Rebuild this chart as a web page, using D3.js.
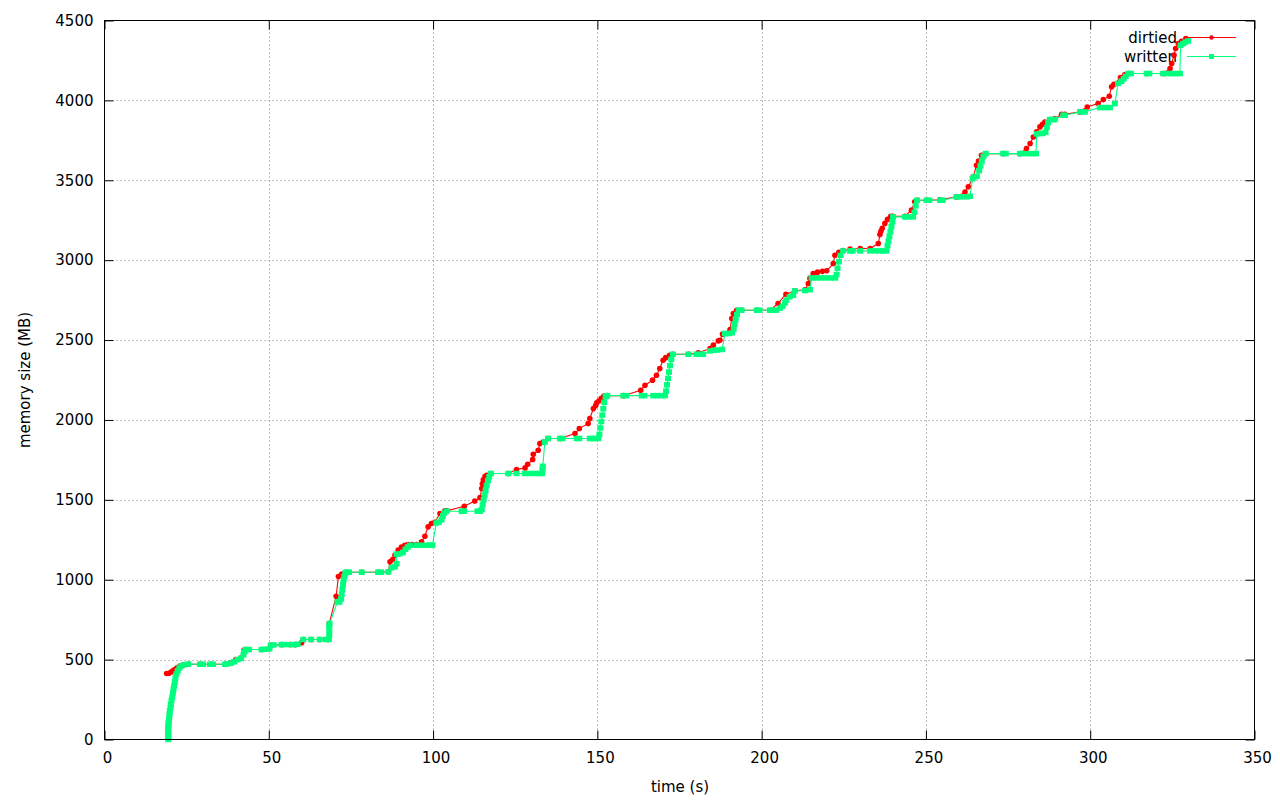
<!DOCTYPE html>
<html>
<head>
<meta charset="utf-8">
<script src="https://cdn.jsdelivr.net/npm/d3@7"></script>
<style>
  html, body { margin: 0; padding: 0; background: #fff; }
  svg { display: block; }
  text { font-family: "DejaVu Sans", sans-serif; font-size: 15px; fill: #000; }
</style>
</head>
<body>
<svg id="chart" width="1280" height="800"></svg>
<script>
// ---- data (time in s, memory in MB) ----
const xTicks = [0, 50, 100, 150, 200, 250, 300, 350];
const yTicks = [0, 500, 1000, 1500, 2000, 2500, 3000, 3500, 4000, 4500];
const seriesNames = ["dirtied", "written"];
const xLabel = "time (s)";
const yLabel = "memory size (MB)";

const dirtied = [
  [18.9,413],[19.6,415],[20.3,422],[20.9,432],[21.5,440],[22.2,450],[23.0,460],[24.0,466],[25.5,471],
  [29.0,471],[32.6,471],[36.7,471],[38.5,480],[40.0,500],[41.5,510],[42.5,560],[43.0,563],[47.8,563],
  [50.2,570],[50.6,590],[53.9,594],[56.5,594],[58.0,594],[60.0,606],[60.5,626],[62.9,626],[65.5,626],
  [68.0,626],[68.4,726],[70.5,897],[71.2,1020],[72.2,1035],[73.6,1047],[78.3,1047],[83.3,1047],
  [86.4,1050],[86.9,1112],[87.7,1127],[88.4,1153],[89.4,1185],[90.4,1205],[91.4,1215],[92.4,1220],
  [93.5,1220],[95.0,1220],[96.5,1237],[97.5,1272],[98.5,1331],[99.5,1352],[100.5,1360],[102.1,1414],
  [103.6,1431],[104.1,1431],[109.5,1460],[112.7,1493],[114.3,1514],[114.8,1571],[115.0,1600],
  [115.3,1625],[115.8,1645],[116.3,1654],[117.6,1665],[122.9,1665],[125.4,1690],[128.0,1700],
  [128.8,1723],[130.3,1752],[130.5,1785],[132.0,1810],[132.5,1852],[133.5,1862],[135.0,1884],
  [138.6,1884],[143.2,1915],[144.5,1946],[147.2,1978],[147.7,2009],[148.8,2071],[149.5,2090],
  [149.8,2107],[150.5,2120],[151.2,2135],[152.0,2149],[153.0,2152],[157.9,2152],[163.2,2186],
  [164.5,2217],[166.8,2249],[168.0,2280],[169.0,2322],[170.0,2374],[170.8,2390],[172.0,2405],
  [173.0,2411],[177.7,2411],[180.7,2420],[184.3,2447],[185.3,2468],[186.8,2495],[187.3,2499],
  [188.1,2537],[190.4,2566],[190.9,2635],[191.4,2666],[192.4,2687],[193.9,2687],[198.5,2687],
  [202.5,2687],[205.0,2729],[207.4,2787],[210.1,2808],[213.2,2815],[214.2,2854],[214.7,2886],
  [215.7,2917],[217.0,2925],[218.5,2930],[219.8,2933],[221.8,2979],[222.3,3031],[223.5,3050],
  [224.8,3060],[226.9,3070],[230.0,3073],[233.0,3073],[235.5,3104],[236.0,3160],[236.3,3181],
  [236.7,3200],[237.5,3230],[238.3,3255],[239.3,3275],[240.0,3275],[243.6,3275],[245.6,3313],
  [246.6,3365],[247.3,3375],[250.2,3375],[254.3,3378],[259.3,3396],[261.9,3427],[262.9,3459],
  [264.4,3521],[265.4,3594],[266.0,3620],[266.9,3657],[268.2,3667],[273.5,3667],[278.6,3667],
  [280.6,3699],[281.7,3730],[282.7,3771],[283.7,3803],[284.7,3834],[285.5,3850],[286.2,3865],
  [287.7,3880],[289.2,3885],[291.3,3913],[292.3,3913],[296.9,3928],[298.4,3935],[299.1,3959],
  [302.4,3980],[304.0,4005],[305.8,4026],[306.5,4085],[307.2,4100],[309.2,4143],[310.5,4160],
  [311.6,4168],[317.2,4168],[322.2,4168],[324.3,4200],[324.8,4231],[325.5,4283],[326.0,4325],
  [326.8,4356],[327.8,4370],[329.1,4387]
];

const written = [
  [19.4,0],[19.4,15],[19.4,30],[19.4,45],[19.4,60],[19.4,75],[19.5,90],[19.5,105],[19.6,120],
  [19.7,140],[19.8,160],[19.9,180],[20.1,200],[20.2,220],[20.4,245],[20.6,265],[20.8,290],
  [21.0,315],[21.2,335],[21.4,360],[21.6,385],[21.9,410],[22.3,430],[22.8,448],[23.4,460],
  [24.2,468],[25.5,472],[29.1,471],[30.0,471],[32.1,471],[33.0,471],[36.7,471],[37.6,474],
  [38.5,478],[39.5,486],[40.5,500],[41.5,507],[42.3,530],[42.6,550],[43.0,563],[44.0,563],
  [47.8,563],[49.0,565],[50.2,568],[50.6,590],[51.5,592],[53.9,594],[54.7,594],[56.5,594],
  [58.0,594],[58.8,596],[60.5,626],[62.9,626],[65.5,626],[67.4,626],[68.3,626],[68.4,650],
  [68.4,680],[68.4,709],[68.5,726],[70.9,861],[71.5,861],[72.0,880],[72.2,910],[72.4,940],
  [72.6,970],[72.8,1000],[73.0,1020],[73.3,1040],[73.6,1047],[74.4,1047],[78.3,1047],[83.3,1047],
  [84.2,1047],[86.4,1049],[87.4,1075],[88.4,1080],[88.9,1100],[88.9,1160],[89.8,1162],[90.8,1170],
  [91.6,1190],[92.3,1205],[93.0,1216],[95.0,1216],[96.5,1216],[98.0,1216],[99.0,1216],[99.8,1216],
  [101.0,1355],[101.8,1360],[102.6,1375],[103.0,1400],[103.4,1418],[104.1,1429],[108.7,1429],
  [109.5,1429],[113.5,1429],[114.3,1429],[114.8,1440],[115.1,1470],[115.4,1500],[115.7,1530],
  [116.0,1560],[116.3,1590],[116.7,1620],[117.1,1645],[117.6,1665],[122.9,1665],[125.4,1665],
  [127.9,1665],[129.5,1665],[131.0,1665],[132.5,1665],[133.2,1665],[133.3,1690],[133.4,1710],
  [134.0,1862],[135.0,1884],[138.6,1884],[139.4,1884],[143.7,1884],[144.5,1884],[147.7,1884],
  [148.5,1884],[149.4,1884],[150.3,1884],[150.6,1910],[150.9,1950],[151.2,1990],[151.5,2030],
  [151.8,2070],[152.1,2110],[152.5,2145],[153.0,2152],[157.9,2152],[158.7,2152],[163.5,2152],
  [164.3,2152],[167.0,2152],[168.2,2152],[169.4,2152],[170.6,2152],[170.9,2180],[171.2,2220],
  [171.5,2260],[171.8,2300],[172.1,2340],[172.5,2380],[173.0,2411],[177.7,2411],[180.2,2411],
  [181.2,2411],[182.2,2411],[184.3,2432],[185.5,2436],[186.5,2438],[188.0,2441],[188.8,2541],
  [190.0,2541],[191.0,2545],[191.5,2570],[191.8,2600],[192.1,2630],[192.5,2660],[193.0,2687],
  [193.9,2687],[198.5,2687],[199.3,2687],[202.5,2687],[203.5,2687],[204.5,2687],[205.6,2700],
  [206.4,2712],[207.1,2733],[207.5,2750],[208.5,2770],[209.6,2780],[210.1,2808],[213.2,2810],
  [214.7,2815],[215.2,2889],[216.5,2889],[218.0,2889],[219.5,2889],[221.0,2889],[222.4,2889],
  [222.8,2910],[223.1,2950],[223.5,2990],[224.0,3030],[224.8,3058],[226.9,3058],[227.7,3058],
  [230.0,3058],[233.0,3058],[234.5,3058],[236.0,3058],[237.0,3058],[238.0,3058],[238.3,3090],
  [238.6,3120],[238.9,3150],[239.2,3180],[239.5,3210],[239.8,3240],[240.0,3271],[243.6,3271],
  [244.4,3271],[246.1,3271],[246.5,3300],[246.9,3340],[247.3,3375],[250.2,3375],[251.0,3375],
  [254.3,3375],[255.1,3375],[259.3,3396],[260.5,3396],[262.4,3396],[263.4,3400],[264.2,3510],
  [264.6,3521],[265.5,3525],[266.2,3560],[266.6,3590],[267.0,3620],[267.5,3650],[268.2,3667],
  [273.5,3667],[274.3,3667],[278.6,3667],[279.4,3667],[281.1,3667],[282.4,3667],[283.5,3667],
  [283.7,3790],[284.7,3793],[285.5,3793],[286.4,3800],[286.8,3830],[287.2,3860],[287.7,3880],
  [288.5,3880],[289.2,3880],[291.8,3907],[292.3,3907],[296.9,3928],[298.4,3928],[302.9,3955],
  [304.5,3955],[306.0,3955],[307.5,3980],[308.5,4106],[309.5,4120],[310.2,4135],[310.8,4150],
  [311.6,4168],[312.4,4168],[317.2,4168],[318.0,4168],[322.2,4168],[323.5,4168],[324.8,4168],
  [326.0,4168],[327.3,4168],[327.5,4345],[328.3,4356],[329.0,4365],[329.8,4372]
];

// ---- drawing ----
const svg = d3.select("#chart");
const plotLeft = 104.5, plotRight = 1254.5, plotTop = 20.5, plotBottom = 739.5;
const x = d3.scaleLinear().domain([xTicks[0], xTicks[xTicks.length - 1]]).range([plotLeft, plotRight]);
const y = d3.scaleLinear().domain([yTicks[0], yTicks[yTicks.length - 1]]).range([plotBottom, plotTop]);

const colors = { dirtied: "#ff0000", written: "#00ff7f" };

// grid
const grid = svg.append("g").attr("stroke", "#808080").attr("stroke-width", 1)
  .attr("stroke-dasharray", "1,3");
xTicks.slice(1, -1).forEach(t => {
  grid.append("line").attr("x1", Math.round(x(t)) + 0.5).attr("x2", Math.round(x(t)) + 0.5)
    .attr("y1", plotTop).attr("y2", plotBottom);
});
yTicks.slice(1, -1).forEach(t => {
  grid.append("line").attr("y1", Math.round(y(t)) + 0.5).attr("y2", Math.round(y(t)) + 0.5)
    .attr("x1", plotLeft).attr("x2", plotRight);
});

// axes with inward ticks (mirrored on top/right)
function styleAxis(g) {
  g.select(".domain").remove();
  g.selectAll(".tick line").attr("stroke", "#000").attr("stroke-width", 1);
  g.selectAll(".tick text").attr("fill", "#000")
    .style("font-family", '"DejaVu Sans", sans-serif').style("font-size", "15px");
}
const xAxis = d3.axisBottom(x).tickValues(xTicks).tickSize(-9).tickPadding(13).tickFormat(d3.format("d"));
svg.append("g").attr("transform", `translate(0,${plotBottom})`).call(xAxis).call(styleAxis)
  .selectAll(".tick text").attr("dx", 2.5);
const yAxis = d3.axisLeft(y).tickValues(yTicks).tickSize(-9).tickPadding(11).tickFormat(d3.format("d"));
svg.append("g").attr("transform", `translate(${plotLeft},0)`).call(yAxis).call(styleAxis);
svg.append("g").attr("transform", `translate(0,${plotTop})`)
  .call(d3.axisTop(x).tickValues(xTicks).tickSize(-9).tickFormat(""))
  .call(styleAxis);
svg.append("g").attr("transform", `translate(${plotRight},0)`)
  .call(d3.axisRight(y).tickValues(yTicks).tickSize(-9).tickFormat(""))
  .call(styleAxis);

// axis titles
svg.append("text").attr("x", (plotLeft + plotRight) / 2 + 0.5).attr("y", 792)
  .attr("text-anchor", "middle").text(xLabel);
svg.append("text").attr("transform", `translate(30,${(plotTop + plotBottom) / 2}) rotate(-90)`)
  .attr("text-anchor", "middle").text(yLabel);

// legend text (drawn under data, as in the reference)
const legendY = [37.5, 56.5];
seriesNames.forEach((name, i) => {
  svg.append("text").attr("x", 1177).attr("y", legendY[i]).attr("dy", "0.35em")
    .attr("text-anchor", "end").text(name);
});

const line = d3.line().x(d => x(d[0])).y(d => y(d[1]));

// dirtied (red, circles)
svg.append("path").datum(dirtied).attr("d", line)
  .attr("fill", "none").attr("stroke", colors.dirtied).attr("stroke-width", 1.1);
svg.append("g").selectAll("circle").data(dirtied).join("circle")
  .attr("cx", d => x(d[0])).attr("cy", d => y(d[1])).attr("r", 2.8)
  .attr("fill", colors.dirtied);
svg.append("line").attr("x1", 1187).attr("x2", 1236).attr("y1", legendY[0]).attr("y2", legendY[0])
  .attr("stroke", colors.dirtied).attr("stroke-width", 1.1);
svg.append("circle").attr("cx", 1211.5).attr("cy", legendY[0]).attr("r", 2.2).attr("fill", colors.dirtied);

// written (green, squares)
svg.append("path").datum(written).attr("d", line)
  .attr("fill", "none").attr("stroke", colors.written).attr("stroke-width", 1.1);
svg.append("g").selectAll("rect").data(written).join("rect")
  .attr("x", d => x(d[0]) - 3).attr("y", d => y(d[1]) - 2.75).attr("width", 6).attr("height", 5.5)
  .attr("fill", colors.written);
svg.append("line").attr("x1", 1187).attr("x2", 1236).attr("y1", legendY[1]).attr("y2", legendY[1])
  .attr("stroke", colors.written).attr("stroke-width", 1.1);
svg.append("rect").attr("x", 1209).attr("y", legendY[1] - 2.5).attr("width", 5).attr("height", 5)
  .attr("fill", colors.written);

// border
svg.append("rect").attr("x", plotLeft).attr("y", plotTop).attr("width", plotRight - plotLeft).attr("height", plotBottom - plotTop)
  .attr("fill", "none").attr("stroke", "#000").attr("stroke-width", 1);
</script>
</body>
</html>
